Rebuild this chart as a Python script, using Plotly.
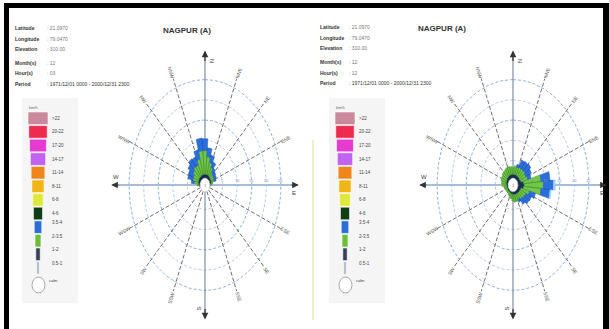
import numpy as np
import plotly.graph_objects as go

# ---------------------------------------------------------------- data
DIRS = list(range(0, 360, 10))          # sector centres, degrees from north

# frequency (%) of each speed class per 10-degree sector
left_slate = [1.6, 1.6, 1.6, 1.5, 1.4, 1.3, 1.3, 1.2, 1.0, 0.8, 0.5, 0.3,
              0, 0, 0, 0, 0, 0, 0, 0, 0, 0, 0, 0,
              0, 0.5, 0.6, 1.0, 1.3, 1.4, 1.4, 1.5, 1.5, 1.5, 1.6, 1.6]
left_green = [5.9, 4.4, 3.15, 2.2, 1.4, 1.2, 1.1, 1.0, 0.6, 0.3, 0, 0,
              0, 0, 0, 0, 0, 0, 0, 0, 0, 0, 0, 0,
              0, 0, 0.2, 0.6, 1.4, 1.9, 2.0, 2.5, 3.0, 2.9, 4.0, 5.9]
left_blue = [2.9, 2.2, 1.9, 1.6, 1.2, 1.0, 0.8, 0.7, 0, 0, 0, 0,
             0, 0, 0, 0, 0, 0, 0, 0, 0, 0, 0, 0,
             0, 0, 0, 0, 1.0, 1.75, 1.9, 2.1, 2.4, 2.25, 2.4, 3.1]
left_light = [0] * 36

right_slate = [1.6, 1.6, 1.6, 1.6, 1.6, 1.6, 1.6, 1.8, 2.6, 2.8, 2.6, 1.8,
               1.6, 1.6, 1.5, 1.4, 1.4, 1.4, 1.3, 1.2, 1.1, 1.0, 1.0, 1.0,
               1.0, 1.0, 1.1, 1.2, 1.3, 1.4, 1.4, 1.5, 1.5, 1.6, 1.6, 1.6]
right_green = [1.6, 2.1, 2.0, 2.2, 2.3, 2.4, 2.2, 2.4, 6.0, 6.6, 6.0, 3.0,
               2.2, 2.0, 1.8, 1.5, 1.8, 1.8, 1.6, 1.2, 1.0, 0.9, 0.6, 0.6,
               0.6, 0.9, 1.0, 1.5, 1.6, 1.8, 1.8, 2.0, 2.0, 2.1, 2.1, 1.9]
right_blue = [0, 0, 0.65, 2.05, 2.2, 2.4, 2.05, 1.1, 3.1, 3.4, 3.1, 2.1,
              2.05, 2.0, 1.5, 0.8, 0, 0, 0, 0, 0, 0, 0, 0,
              0, 0, 0, 0, 0, 0, 0, 0, 0, 0, 0, 0]
right_light = [0, 0, 0, 0, 0, 0, 0, 0, 0, 0.7, 0.4, 0,
               0, 0, 0, 0, 0, 0, 0, 0, 0, 0, 0, 0,
               0, 0, 0, 0, 0, 0, 0, 0, 0, 0, 0, 0]

ring_values = [5, 10, 15, 20, 25]
compass = ["N", "NNE", "NE", "ENE", "E", "ESE", "SE", "SSE",
           "S", "SSW", "SW", "WSW", "W", "WNW", "NW", "NNW"]

legend_labels = [">22", "20-22", "17-20", "14-17", "11-14", "8-11",
                 "6-8", "4-6", "3.5-4", "2-3.5", "1-2", "0.5-1"]
legend_colors = ["#c9889b", "#ee2b4f", "#e63bd0", "#c262f0", "#f0861a",
                 "#f0b516", "#dfe83c", "#0f3d14", "#2b6fd2", "#6cbf3c",
                 "#34405a", "#b4bccb"]

station = "NAGPUR (A)"
left_meta = [("Latitude", "21.0970"), ("Longitude", "79.0470"),
             ("Elevation", "310.00"), ("Month(s)", "12"), ("Hour(s)", "03"),
             ("Period", "1971/12/01 0000 - 2000/12/31 2300")]
right_meta = [("Latitude", "21.0970"), ("Longitude", "79.0470"),
              ("Elevation", "310.00"), ("Month(s)", "12"), ("Hour(s)", "12"),
              ("Period", "1971/12/01 0000 - 2000/12/31 2300")]

# ---------------------------------------------------------------- styling
W, H = 609, 329
HOLE = 0.2                # radius where the bars start
PCT = 25 / 4.7            # percent per axis unit
CALM_R = 0.32
FONT = "Liberation Sans"
class_colors = ["#1f3559", "#72c64a", "#2b6fdc", "#a6d8f6"]
class_edges = ["#16284a", "#3f8f2a", "#1e56b4", "#7fbfe8"]

X_PX, Y_PX = 15.5, 21.5   # pixels per axis unit
CY = 185
panels = [
    dict(cx=205, xa="x", ya="y", data=[left_slate, left_green, left_blue, left_light],
         meta=left_meta, dx=0, tx=161, ty=24, label_x=13, value_x=45, top=23),
    dict(cx=513, xa="x2", ya="y2", data=[right_slate, right_green, right_blue, right_light],
         meta=right_meta, dx=307, tx=468, ty=22, label_x=318, value_x=347, top=22),
]


def rad(p):
    return HOLE + p / PCT


def wedge_path(d, r0, r1, half=5.0, n=6):
    a = np.radians(np.linspace(d - half, d + half, n))
    xs = list(r1 * np.sin(a)) + list(r0 * np.sin(a[::-1]))
    ys = list(r1 * np.cos(a)) + list(r0 * np.cos(a[::-1]))
    return xs + [xs[0], None], ys + [ys[0], None]


fig = go.Figure()
annotations = []
shapes = []


def px_x(v):
    return v / W


def px_y(v):
    return 1 - v / H


for pnl in panels:
    xa, ya = pnl["xa"], pnl["ya"]
    xref, yref = xa, ya
    t = np.radians(np.linspace(0, 360, 181))

    # rings
    for i, v in enumerate(ring_values):
        r = rad(v)
        col = "#8fb0dc" if v in (15, 25) else "#bccbe0"
        fig.add_trace(go.Scatter(x=r * np.sin(t), y=r * np.cos(t), mode="lines",
                                 line=dict(color=col, width=1, dash="3px,2px"),
                                 xaxis=xa, yaxis=ya, hoverinfo="skip", showlegend=False))
        annotations.append(dict(x=r, y=0.22, xref=xref, yref=yref, text=str(v),
                                showarrow=False, font=dict(size=4, color="#7f9cc4", family=FONT)))

    # dashed spokes with direction labels
    for k, name in enumerate(compass):
        d = k * 22.5
        if k % 4 == 0:
            continue
        a = np.radians(d)
        fig.add_trace(go.Scatter(x=[CALM_R * np.sin(a), 5.35 * np.sin(a)],
                                 y=[CALM_R * np.cos(a), 5.35 * np.cos(a)], mode="lines",
                                 line=dict(color="#6e6e6e", width=1, dash="4px,2px"),
                                 xaxis=xa, yaxis=ya, hoverinfo="skip", showlegend=False))
        ang = np.degrees(np.arctan2(np.cos(a) * Y_PX, np.sin(a) * X_PX))
        if np.sin(a) < 0:
            ang -= 180
        annotations.append(dict(x=5.65 * np.sin(a), y=5.65 * np.cos(a), xref=xref, yref=yref,
                                text=name, showarrow=False, textangle=-ang,
                                font=dict(size=5, color="#555", family=FONT)))

    # main axes
    fig.add_trace(go.Scatter(x=[-6.0, 6.0], y=[0, 0], mode="lines",
                             line=dict(color="#a9bcd5", width=2),
                             xaxis=xa, yaxis=ya, hoverinfo="skip", showlegend=False))
    fig.add_trace(go.Scatter(x=[0, 0], y=[-6.2, 6.2], mode="lines",
                             line=dict(color="#7f8ea6", width=1.2),
                             xaxis=xa, yaxis=ya, hoverinfo="skip", showlegend=False))
    for (x0, y0, x1, y1) in [(0, 5.7, 0, 6.25), (0, -5.7, 0, -6.25),
                             (5.5, 0, 6.05, 0), (-5.5, 0, -6.05, 0)]:
        annotations.append(dict(x=x1, y=y1, ax=x0, ay=y0, xref=xref, yref=yref,
                                axref=xref, ayref=yref, showarrow=True, arrowhead=2,
                                arrowsize=1.1, arrowwidth=1.2, arrowcolor="#333", text=""))
    for (txt, x, y, ang) in [("N", 0.45, 5.75, -90), ("S", -0.4, -5.75, -90),
                             ("E", 5.75, -0.35, 0), ("W", -5.75, 0.35, 0)]:
        annotations.append(dict(x=x, y=y, xref=xref, yref=yref, text=txt, showarrow=False,
                                textangle=ang, font=dict(size=6, color="#444", family=FONT)))

    # stacked bars
    cum = np.zeros(len(DIRS))
    for ci, series in enumerate(pnl["data"]):
        vals = np.array(series, dtype=float)
        xs, ys = [], []
        for d, c0, v in zip(DIRS, cum, vals):
            if v <= 0:
                continue
            px_, py_ = wedge_path(d, rad(c0), rad(c0 + v))
            xs += px_
            ys += py_
        cum = cum + vals
        if xs:
            fig.add_trace(go.Scatter(x=xs, y=ys, mode="lines", fill="toself",
                                     fillcolor=class_colors[ci],
                                     line=dict(color=class_edges[ci], width=0.5),
                                     xaxis=xa, yaxis=ya, hoverinfo="skip", showlegend=False))

    # calm circle
    fig.add_trace(go.Scatter(x=CALM_R * np.sin(t), y=CALM_R * np.cos(t), mode="lines",
                             fill="toself", fillcolor="white",
                             line=dict(color="#c8c8c8", width=0.6),
                             xaxis=xa, yaxis=ya, hoverinfo="skip", showlegend=False))
    annotations.append(dict(x=0, y=0, xref=xref, yref=yref, text="1", showarrow=False,
                            font=dict(size=4, color="#777", family=FONT)))

    # header block
    ys_px = [pnl["top"], pnl["top"] + 10.5, pnl["top"] + 21, pnl["top"] + 35,
             pnl["top"] + 45.5, pnl["top"] + 56]
    for (lab, val), ypx in zip(pnl["meta"], ys_px):
        annotations.append(dict(x=px_x(pnl["label_x"]), y=px_y(ypx), xref="paper", yref="paper",
                                text="<b>%s</b>" % lab, showarrow=False, xanchor="left",
                                font=dict(size=5, color="#333", family=FONT)))
        annotations.append(dict(x=px_x(pnl["value_x"]), y=px_y(ypx), xref="paper", yref="paper",
                                text=": " + val, showarrow=False, xanchor="left",
                                font=dict(size=5, color="#777" if lab != "Period" else "#333",
                                          family=FONT)))
    annotations.append(dict(x=px_x(pnl["tx"]), y=px_y(pnl["ty"]), xref="paper", yref="paper",
                            text="<b>%s</b>" % station, showarrow=False,
                            font=dict(size=8, color="#333", family=FONT)))

    # speed legend
    dx = pnl["dx"]
    shapes.append(dict(type="rect", xref="paper", yref="paper",
                       x0=px_x(22 + dx), x1=px_x(78 + dx), y0=px_y(303), y1=px_y(98),
                       fillcolor="#f5f5f5", line=dict(width=0), layer="below"))
    annotations.append(dict(x=px_x(27 + dx), y=px_y(103), xref="paper", yref="paper",
                            text="km/h", showarrow=False, xanchor="left",
                            font=dict(size=4, color="#666", family=FONT)))
    n = len(legend_labels)
    for i, (lab, col) in enumerate(zip(legend_labels, legend_colors)):
        top = 112 + i * 13.6
        half = 10 - i * 0.78
        shapes.append(dict(type="rect", xref="paper", yref="paper",
                           x0=px_x(38 + dx - half), x1=px_x(38 + dx + half),
                           y0=px_y(top + 12.6), y1=px_y(top),
                           fillcolor=col, line=dict(color="white", width=0.6)))
        annotations.append(dict(x=px_x(50 + dx), y=px_y(top + 6.3), xref="paper", yref="paper",
                                text=lab, showarrow=False, xanchor="left",
                                font=dict(size=4.5, color="#444", family=FONT)))
    shapes.append(dict(type="circle", xref="paper", yref="paper",
                       x0=px_x(32 + dx), x1=px_x(45 + dx), y0=px_y(293), y1=px_y(277),
                       fillcolor="white", line=dict(color="#aaa", width=1)))
    annotations.append(dict(x=px_x(47 + dx), y=px_y(285), xref="paper", yref="paper",
                            text="calm", showarrow=False, xanchor="left",
                            font=dict(size=4, color="#444", family=FONT)))

# faint vertical tint at the start of the right panel
shapes.append(dict(type="line", xref="paper", yref="paper", x0=px_x(313), x1=px_x(313),
                   y0=px_y(320), y1=px_y(140), line=dict(color="#eef3c6", width=2)))

# black frame
for (x0, x1, y0, y1) in [(4, 9, 3, 329), (4, 609, 3, 8), (603, 609, 3, 329)]:
    shapes.append(dict(type="rect", xref="paper", yref="paper",
                       x0=px_x(x0), x1=px_x(x1), y0=px_y(y1), y1=px_y(y0),
                       fillcolor="black", line=dict(width=0)))

ax_common = dict(visible=False, showgrid=False, zeroline=False, fixedrange=True)
fig.update_layout(
    width=W, height=H,
    margin=dict(l=0, r=0, t=0, b=0),
    paper_bgcolor="white", plot_bgcolor="rgba(0,0,0,0)",
    showlegend=False,
    xaxis=dict(domain=[100 / W, 310 / W], range=[-105 / X_PX, 105 / X_PX], **ax_common),
    yaxis=dict(domain=[0, 1], range=[-(H - CY) / Y_PX, CY / Y_PX], **ax_common),
    xaxis2=dict(domain=[408 / W, 1.0], range=[-105 / X_PX, 96 / X_PX], anchor="y2", **ax_common),
    yaxis2=dict(domain=[0, 1], range=[-(H - CY) / Y_PX, CY / Y_PX], anchor="x2", **ax_common),
    annotations=annotations,
    shapes=shapes,
)

fig.write_html("out.html")
